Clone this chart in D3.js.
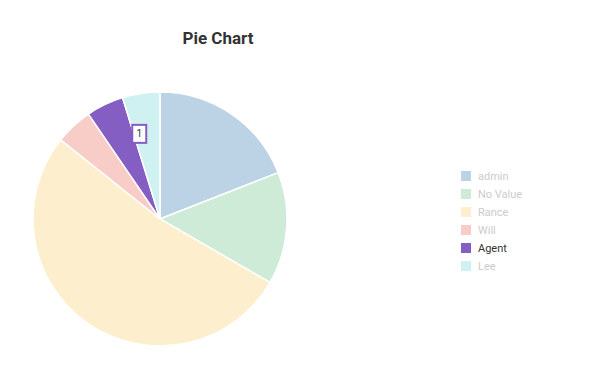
<!DOCTYPE html>
<html>
<head>
<meta charset="utf-8">
<script src="https://cdn.jsdelivr.net/npm/d3@7"></script>
<style>
  body { margin: 0; background: #fff; font-family: "Helvetica Neue", Roboto, "Noto Sans", sans-serif; }
</style>
</head>
<body>
<div id="chart"></div>
<script>
const categories = ["admin", "No Value", "Rance", "Will", "Agent", "Lee"];
const values = [4, 3, 11, 1, 1, 1];
const colors = ["#bcd3e6", "#cdebd6", "#fdefcd", "#f9cdc7", "#845ec2", "#d0f1f1"];
const activeIndex = 4; // hovered slice

const width = 605, height = 376;
const cx = 160, cy = 219, radius = 127;

const svg = d3.select('#chart').append('svg')
    .attr('width', width)
    .attr('height', height);

svg.append('text')
    .attr('x', 218)
    .attr('y', 44)
    .attr('text-anchor', 'middle')
    .style('font-size', '17px')
    .style('font-weight', 'bold')
    .style('fill', '#333')
    .text('Pie Chart');

const pie = d3.pie().sort(null).value(d => d);
const arcs = pie(values);
const arc = d3.arc().innerRadius(0).outerRadius(radius);

const g = svg.append('g').attr('transform', `translate(${cx}, ${cy})`);

g.selectAll('path').data(arcs).enter().append('path')
    .attr('d', arc)
    .attr('fill', (d, i) => colors[i])
    .attr('stroke', '#fff')
    .attr('stroke-width', 1.5);

// tooltip label for hovered slice
const hov = arcs[activeIndex];
const labelArc = d3.arc().innerRadius(radius * 0.69).outerRadius(radius * 0.69);
const [lx, ly] = labelArc.centroid({ startAngle: hov.endAngle + 0.06, endAngle: hov.endAngle + 0.06 });
const lab = g.append('g').attr('transform', `translate(${lx}, ${ly})`);
lab.append('rect')
    .attr('x', -7).attr('y', -9)
    .attr('width', 14).attr('height', 18)
    .attr('fill', '#fff')
    .attr('stroke', '#845ec2')
    .attr('stroke-width', 2);
lab.append('text')
    .attr('text-anchor', 'middle')
    .attr('dy', '0.35em')
    .style('font-size', '10px')
    .style('fill', '#333')
    .text(hov.data);

// legend
const legendY = d3.scaleBand().domain(categories).range([167, 275]);
const legend = svg.append('g').attr('transform', 'translate(461, 0)');
const items = legend.selectAll('g').data(categories).enter().append('g')
    .attr('transform', d => `translate(0, ${legendY(d)})`);
items.append('rect')
    .attr('width', 10).attr('height', 10)
    .attr('y', 4)
    .attr('fill', (d, i) => colors[i]);
items.append('text')
    .attr('x', 17).attr('y', 9)
    .attr('dy', '0.35em')
    .style('font-size', '11px')
    .style('fill', (d, i) => i === activeIndex ? '#333' : '#cccccc')
    .text(d => d);
</script>
</body>
</html>
